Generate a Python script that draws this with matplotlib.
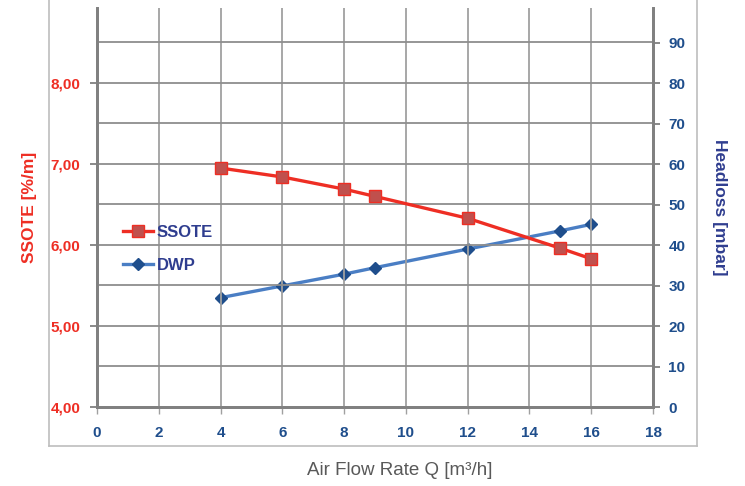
import matplotlib
matplotlib.use("Agg")
import matplotlib.pyplot as plt
from matplotlib.lines import Line2D
import numpy as np

plt.rcParams['font.family'] = ['Liberation Sans', 'DejaVu Sans']

# ── data ──────────────────────────────────────────────────────────────────────
flow_rate = [4, 6, 8, 9, 12, 15, 16]
ssote = [6.95, 6.84, 6.69, 6.60, 6.33, 5.96, 5.83]
headloss = [27.0, 29.9, 32.8, 34.4, 39.0, 43.5, 45.1]

x_ticks = list(range(0, 19, 2))
left_ticks = [4, 5, 6, 7, 8]
right_ticks = list(range(0, 91, 10))

RED = "#EE2E24"
RED_FILL = "#C0504D"
BLUE = "#4A7EC4"
NAVY = "#1F4E8C"
NAVY_TXT = "#2F3D8F"
GRID = "#A0A0A0"
SPINE = "#808080"


def main():
    fig = plt.figure(figsize=(7.45, 4.86), dpi=100)
    fig.patch.set_facecolor("white")
    ax = fig.add_axes([97 / 745, 1 - 407 / 486, 556 / 745, 399 / 486])
    ax2 = ax.twinx()

    ax.set_xlim(0, 18)
    ax.set_ylim(4, 4 + 399 / 81)
    ax2.set_ylim(0, 399 / 4.05)

    # grid
    for xv in x_ticks[1:-1]:
        ax.axvline(xv, color=GRID, lw=1.3, zorder=0)
    for yv in np.arange(4.5, 8.6, 0.5):
        ax.axhline(yv, color="#8E8E8E", lw=1.3, zorder=0)

    # series
    ax.plot(flow_rate, ssote, color=RED, lw=2.4, marker="s", markersize=9,
            markerfacecolor=RED_FILL, markeredgecolor=RED, markeredgewidth=1.0,
            zorder=4, clip_on=False)
    ax2.plot(flow_rate, headloss, color=BLUE, lw=2.4, marker="D", markersize=6.5,
             markerfacecolor=NAVY, markeredgecolor=NAVY, zorder=3, clip_on=False)
    ax.set_zorder(ax2.get_zorder() + 1)
    ax.patch.set_visible(False)

    # ticks
    ax.set_xticks(x_ticks)
    ax.set_xticklabels([str(v) for v in x_ticks], color=NAVY, fontsize=11,
                       fontweight="bold")
    ax.set_yticks(left_ticks)
    ax.set_yticklabels([f"{v},00" for v in left_ticks], color=RED, fontsize=11,
                       fontweight="bold")
    ax2.set_yticks(right_ticks)
    ax2.set_yticklabels([str(v) for v in right_ticks], color=NAVY, fontsize=11,
                        fontweight="bold")
    ax.tick_params(axis="x", length=5, width=1, color=GRID, pad=9)
    ax.tick_params(axis="y", length=5, width=1.3, color=SPINE, pad=7)
    ax2.tick_params(axis="y", length=5, width=1.3, color=SPINE, pad=6)

    for a in (ax, ax2):
        a.spines["top"].set_visible(False)
        for s in ("left", "right", "bottom"):
            a.spines[s].set_color(SPINE)
            a.spines[s].set_linewidth(2)

    # labels
    ax.set_ylabel("SSOTE [%/m]", color=RED, fontsize=12.5, fontweight="bold",
                  labelpad=10)
    ax2.set_ylabel("Headloss [mbar]", color=NAVY_TXT, fontsize=12.5,
                   fontweight="bold", rotation=-90, labelpad=30)
    fig.text(400 / 745, 1 - 470 / 486, "Air Flow Rate Q [m³/h]", color="#595959",
             fontsize=13.5, ha="center", va="center")

    # legend
    handles = [
        Line2D([0], [0], color=RED, lw=2.4, marker="s", markersize=9,
               markerfacecolor=RED_FILL, markeredgecolor=RED, label="SSOTE"),
        Line2D([0], [0], color=BLUE, lw=2.4, marker="D", markersize=6.5,
               markerfacecolor=NAVY, markeredgecolor=NAVY, label="DWP"),
    ]
    leg = ax.legend(handles=handles, loc="center left", bbox_to_anchor=(0.02, 0.396),
                    frameon=False, fontsize=12, handlelength=1.8, handletextpad=0.2,
                    labelspacing=1.05)
    for t in leg.get_texts():
        t.set_color(NAVY_TXT)
        t.set_fontweight("bold")

    # outer chart frame (cropped at top)
    frame_c = "#BEBEBE"
    fig.add_artist(Line2D([49 / 745, 49 / 745], [1 - 446 / 486, 1.0], color=frame_c, lw=1.2))
    fig.add_artist(Line2D([697 / 745, 697 / 745], [1 - 446 / 486, 1.0], color=frame_c, lw=1.2))
    fig.add_artist(Line2D([49 / 745, 697 / 745], [1 - 446 / 486, 1 - 446 / 486], color=frame_c, lw=1.2))

    fig.savefig("out.png", dpi=100)


if __name__ == "__main__":
    main()
